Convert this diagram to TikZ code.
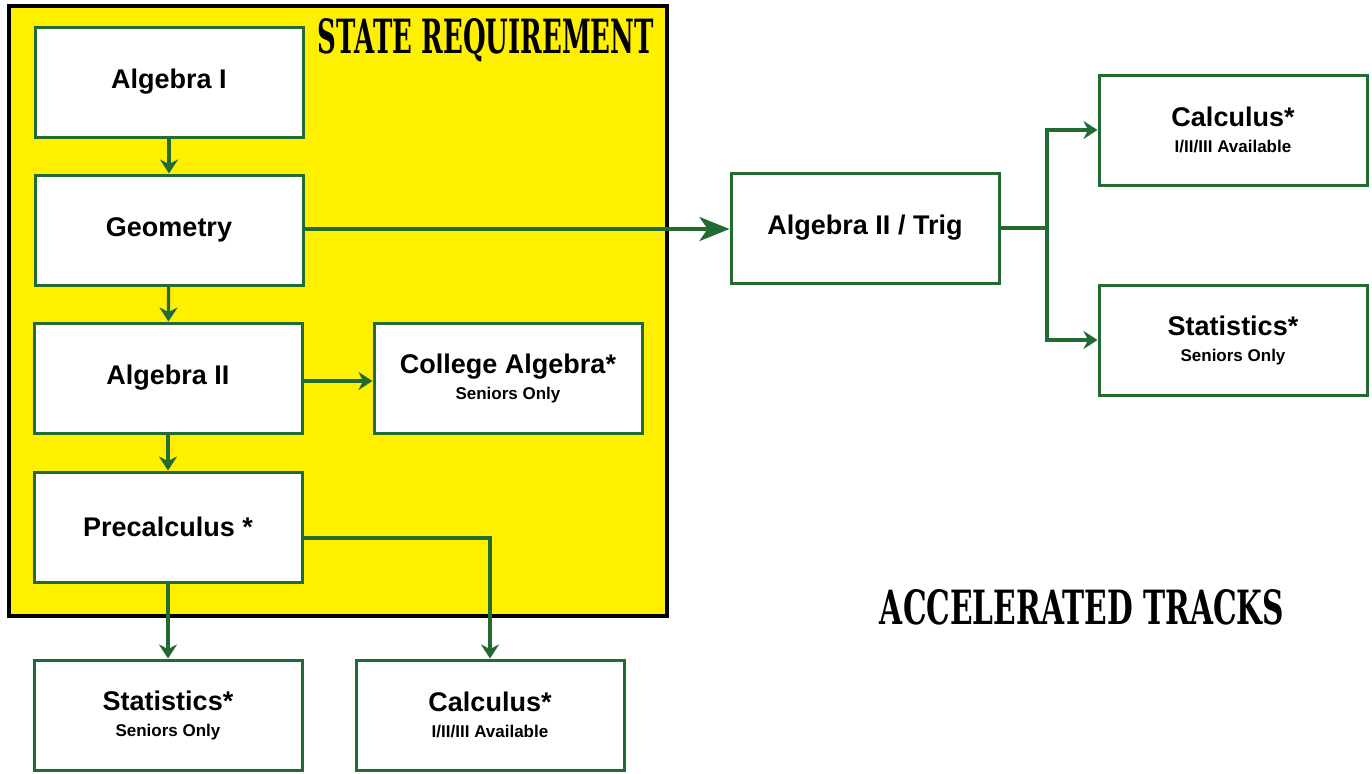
\documentclass[tikz,border=0pt]{standalone}
\usepackage{fontspec}
\setmainfont{Liberation Sans}
\newfontfamily\titlefont{DejaVu Serif}
\usetikzlibrary{arrows.meta,positioning}
\definecolor{trackgreen}{RGB}{34,107,51}
\definecolor{stateyellow}{RGB}{255,240,0}
\tikzset{
    course/.style={draw=trackgreen,line width=1.5pt,fill=white,minimum width=134pt,minimum height=55pt,align=center,inner sep=0pt},
    arr/.style={-{Stealth[length=7pt,width=9pt]},draw=trackgreen,line width=1.6pt},
    bigarr/.style={-{Stealth[length=15pt,width=12pt,inset=4pt]},draw=trackgreen,line width=1.6pt},
    banner/.style={inner sep=0pt,font=\titlefont\bfseries},
}
\tikzstyle{every node}=[font=\fontsize{13.5}{16}\selectfont\bfseries]
\newcommand{\sublabel}[1]{\\[-3pt]{\fontsize{8.5}{10}\selectfont #1}}

\begin{document}
\begin{tikzpicture}[x=0.5pt,y=-0.5pt]
        \useasboundingbox (0,0) rectangle (1372,773);

        % state requirement area
        \draw[fill=stateyellow,line width=2pt] (9,6) rectangle (667,616);
        \node[banner] (statetitle) at (486,40) {\resizebox{168pt}{17.5pt}{STATE REQUIREMENT}};

        \node[course] (alga) at (169,82) {Algebra I};
        \node[course] (geom) at (169,230) {Geometry};
        \node[course] (algb) at (168,378) {Algebra II};
        \node[course] (colalg) at (508,378) {College Algebra*\sublabel{Seniors Only}};
        \node[course] (precalc) at (168,527) {Precalculus *};

        \node[course] (statlow) at (168,715) {Statistics*\sublabel{Seniors Only}};
        \node[course] (calclow) at (490,715) {Calculus*\sublabel{I/II/III Available}};

        % accelerated tracks
        \node[course] (trig) at (865,228) {Algebra II / Trig};
        \node[course] (calchigh) at (1233,130) {Calculus*\sublabel{I/II/III Available}};
        \node[course] (stathigh) at (1233,340) {Statistics*\sublabel{Seniors Only}};
        \node[banner] (acctitle) at (1082,607) {\resizebox{202pt}{17.5pt}{ACCELERATED TRACKS}};

        \draw[arr] (alga) -- (geom);
        \draw[arr] (geom) -- (algb);
        \draw[arr] (algb) -- (precalc);
        \draw[arr] ([yshift=-1.5pt]algb.east) -- ([yshift=-1.5pt]colalg.west);
        \draw[arr] (precalc) -- (statlow);
        \draw[arr] ([yshift=-5.5pt]precalc.east) -| (calclow.north);
        \draw[bigarr] ([yshift=0.5pt]geom.east) -- ([yshift=0.5pt]geom.east -| trig.west);

        \coordinate (fork) at (1047,228);
        \draw[trackgreen,line width=1.6pt] (trig.east) -- (fork);
        \draw[arr] (fork) |- (calchigh.west);
        \draw[arr] (fork) |- (stathigh.west);
    \end{tikzpicture}
\end{document}
